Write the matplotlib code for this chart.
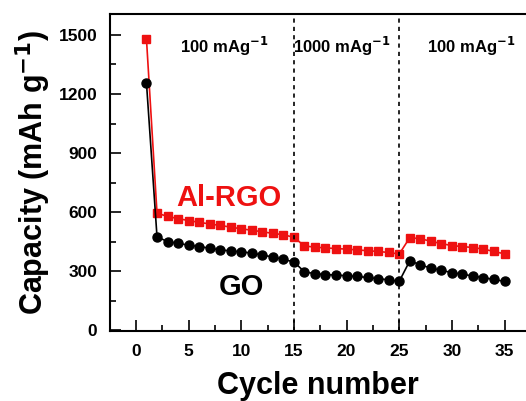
import matplotlib
matplotlib.use('Agg')
import matplotlib.pyplot as plt
from matplotlib.ticker import MultipleLocator

plt.rcParams['font.family'] = ['Liberation Sans', 'DejaVu Sans']
plt.rcParams['font.weight'] = 'bold'
plt.rcParams['mathtext.default'] = 'bf'

# 사이클 번호와 용량 데이터
cycles = list(range(1, 36))
al_rgo = [1478, 595, 578, 567, 557, 548, 540, 532, 524, 515, 508, 500, 492, 485, 472,
          428, 422, 418, 415, 412, 408, 404, 400, 395, 387,
          470, 465, 452, 440, 430, 425, 420, 412, 400, 388]
go = [1255, 475, 450, 442, 432, 425, 417, 408, 403, 398, 392, 382, 372, 360, 347,
      297, 287, 283, 280, 277, 273, 268, 262, 256, 248,
      352, 333, 315, 305, 292, 285, 275, 267, 258, 248]

rate_switch = [15, 25]
rate_labels = ['100 mAg$^{\\mathbf{-1}}$', '1000 mAg$^{\\mathbf{-1}}$', '100 mAg$^{\\mathbf{-1}}$']
rate_label_x = [8.4, 19.6, 31.8]

fig = plt.figure(figsize=(5.26, 4.01), dpi=100)
ax = fig.add_axes([0.209, 0.174, 0.791, 0.791])

ax.plot(cycles, al_rgo, color='#ee1111', marker='s', markersize=5.5, linewidth=1.2)
ax.plot(cycles, go, color='black', marker='o', markersize=6.5, linewidth=1.2)

for xs in rate_switch:
    ax.axvline(xs, color='black', linestyle=(0, (2.5, 2.5)), linewidth=1.2)

for lbl, xl in zip(rate_labels, rate_label_x):
    ax.text(xl, 1440, lbl, ha='center', va='center', fontsize=12, fontweight='bold')

ax.text(8.8, 670, 'Al-RGO', color='#ee1111', ha='center', va='center',
        fontsize=21, fontweight='bold')
ax.text(10.0, 222, 'GO', color='black', ha='center', va='center',
        fontsize=21, fontweight='bold')

ax.set_xlim(-2.47, 37.04)
ax.set_ylim(-5, 1606)
ax.xaxis.set_major_locator(MultipleLocator(5))
ax.xaxis.set_minor_locator(MultipleLocator(2.5))
ax.yaxis.set_major_locator(MultipleLocator(300))
ax.yaxis.set_minor_locator(MultipleLocator(150))
ax.tick_params(which='major', direction='in', length=8, width=1.2, labelsize=12.5, pad=9)
ax.tick_params(which='minor', direction='in', length=4, width=1.2)
ax.tick_params(top=False, right=False, which='both')
for lab in ax.get_xticklabels() + ax.get_yticklabels():
    lab.set_fontweight('bold')

ax.spines['right'].set_visible(False)
for sp in ['left', 'bottom', 'top']:
    ax.spines[sp].set_linewidth(1.5)

ax.set_xlabel('Cycle number', fontsize=22, fontweight='bold', labelpad=9)
ax.set_ylabel('Capacity (mAh g$^{\\mathbf{-1}}$)', fontsize=22, fontweight='bold', labelpad=4)

fig.savefig('out.png', dpi=100)
